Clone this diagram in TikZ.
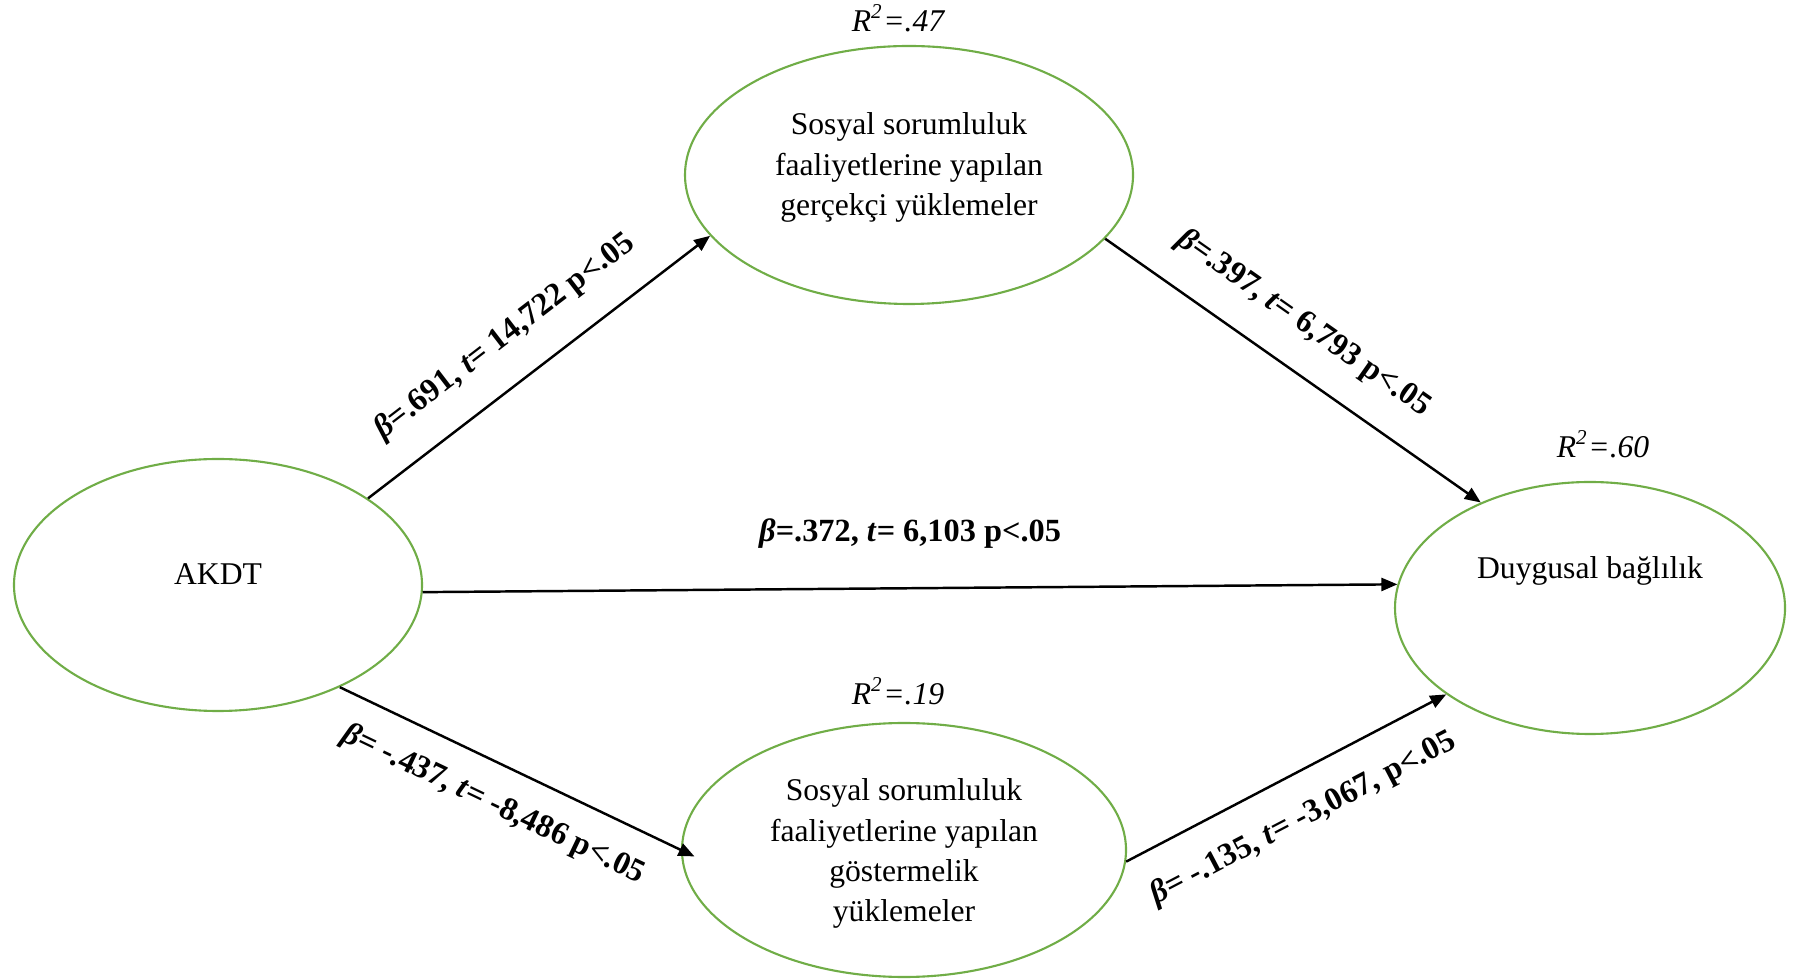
\documentclass[tikz,border=0pt]{standalone}
\usepackage{fontspec}
\setmainfont{Liberation Serif}
\usetikzlibrary{shapes.geometric,arrows.meta}
\definecolor{ovalgreen}{RGB}{112,173,71}
\begin{document}
\begin{tikzpicture}[x=0.1mm,y=-0.1mm,
	oval/.style={draw=ovalgreen,line width=0.6pt,ellipse,inner sep=0pt},
	intext/.style={align=center,font=\fontsize{9}{11.4}\selectfont},
	rsq/.style={font=\fontsize{9}{11}\selectfont\itshape},
	link/.style={-{Triangle[length=1.6mm,width=1.3mm]},line width=0.7pt},
	coef/.style={font=\fontsize{9.2}{11}\selectfont\bfseries,inner sep=0pt}]
	\useasboundingbox (0,0) rectangle (1798,979);
	\node[oval,minimum width=40.8mm,minimum height=25.2mm,label={[intext,yshift=1.1mm]center:AKDT}] (akdt) at (218,585) {};
	\node[oval,minimum width=44.8mm,minimum height=25.8mm,label={[intext,yshift=0.75mm]center:Sosyal sorumluluk\\faaliyetlerine yapılan\\gerçekçi yüklemeler}] (gercekci) at (909,175) {};
	\node[oval,minimum width=44.4mm,minimum height=25.4mm,label={[intext,yshift=-0.35mm]center:Sosyal sorumluluk\\faaliyetlerine yapılan\\göstermelik\\yüklemeler}] (gostermelik) at (904,850) {};
	\node[oval,minimum width=39mm,minimum height=25.2mm,label={[intext,yshift=3.75mm]center:Duygusal bağlılık}] (duygusal) at (1590,608) {};
	\node[rsq] (r2a) at (898,18) {R\textsuperscript{2}=.47};
	\node[rsq] (r2b) at (1603,444) {R\textsuperscript{2}=.60};
	\node[rsq] (r2c) at (898,691) {R\textsuperscript{2}=.19};
	\draw[link] (akdt.30) -- (gercekci.197) node[coef,sloped,above,pos=0.48,outer sep=3mm] (b1) {\textit{β}=.691, \textit{t}= 14,722 p<.05};
	\draw[link] (gercekci.342) -- (duygusal.136) node[coef,sloped,above,pos=0.46,outer sep=3mm] (b2) {\textit{β}=.397, \textit{t}= 6,793 p<.05};
	\draw[link] (akdt.358) -- (duygusal.173) node[coef,above,pos=0.5,outer sep=4mm] (b3) {\textit{β}=.372, \textit{t}= 6,103 p<.05};
	\draw[link,shorten >=-1.5mm] (akdt.320) -- (gostermelik.180) node[coef,sloped,below,pos=0.5,outer sep=2.5mm] (b4) {\textit{β}= -.437, \textit{t}= -8,486 p<.05};
	\draw[link] (gostermelik.357) -- (duygusal.211) node[coef,sloped,below,pos=0.49,outer sep=2.9mm] (b5) {\textit{β}= -.135, \textit{t}= -3,067, p<.05};
\end{tikzpicture}
\end{document}
